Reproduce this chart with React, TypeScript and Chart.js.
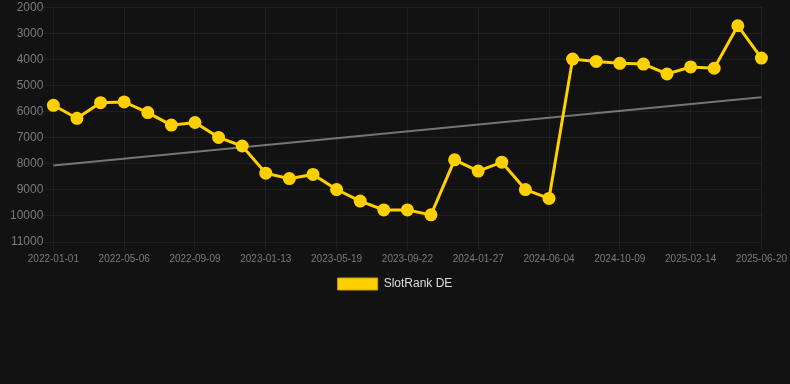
import React, { useEffect, useRef } from "react";
import { Chart, registerables } from "chart.js";

Chart.register(...registerables);

const labels: string[] = [
  "2022-01-01", "2022-02-12", "2022-03-25", "2022-05-06", "2022-06-17", "2022-07-29",
  "2022-09-09", "2022-10-21", "2022-12-02", "2023-01-13", "2023-02-24", "2023-04-07",
  "2023-05-19", "2023-06-30", "2023-08-11", "2023-09-22", "2023-11-03", "2023-12-15",
  "2024-01-27", "2024-03-09", "2024-04-22", "2024-06-04", "2024-07-16", "2024-08-27",
  "2024-10-09", "2024-11-20", "2025-01-02", "2025-02-14", "2025-03-28", "2025-05-09",
  "2025-06-20",
];

const slotRankDE: number[] = [
  5760, 6260, 5660, 5630, 6040, 6520, 6420, 6990, 7320, 8360, 8570, 8410,
  8990, 9430, 9770, 9770, 9960, 7850, 8280, 7940, 8990, 9330, 3990, 4080,
  4150, 4180, 4560, 4290, 4340, 2710, 3950,
];

const trendStart = 8070;
const trendEnd = 5450;
const trend: (number | null)[] = labels.map((_, i) =>
  i === 0 ? trendStart : i === labels.length - 1 ? trendEnd : null
);

const yMin = 2000;
const yMax = 11000;
const yStep = 1000;

export default function App() {
  const ref = useRef<HTMLCanvasElement | null>(null);

  useEffect(() => {
    document.body.style.margin = "0";
    document.body.style.background = "#121212";
    if (!ref.current) return;
    const defaultLabels = Chart.defaults.plugins.legend.labels.generateLabels;
    const chart = new Chart(ref.current, {
      type: "line",
      data: {
        labels,
        datasets: [
          {
            label: "SlotRank DE",
            data: slotRankDE,
            borderColor: "#FFD000",
            backgroundColor: "#FFD000",
            borderWidth: 3,
            pointRadius: 5,
            pointHoverRadius: 5,
            pointBackgroundColor: "#FFD000",
            pointBorderColor: "#FFD000",
            tension: 0,
          },
          {
            label: "Trend",
            data: trend,
            borderColor: "rgba(160,160,160,0.7)",
            backgroundColor: "rgba(160,160,160,0.7)",
            borderWidth: 2,
            pointRadius: 0,
            spanGaps: true,
          },
        ],
      },
      options: {
        animation: false,
        responsive: true,
        maintainAspectRatio: false,
        layout: { autoPadding: false, padding: 0 },
        plugins: {
          legend: {
            position: "bottom",
            labels: {
              color: "#dddddd",
              font: { size: 12 },
              boxWidth: 40,
              boxHeight: 12,
              filter: (item) => item.text === "SlotRank DE",
              generateLabels: (c) =>
                defaultLabels(c).map((l) => ({ ...l, lineWidth: 1, strokeStyle: "#c9a400" })),
            },
          },
          tooltip: { enabled: false },
        },
        scales: {
          x: {
            grid: { color: "rgba(255,255,255,0.06)", tickColor: "rgba(255,255,255,0.06)" },
            border: { display: false },
            ticks: {
              color: "#7a7a7a",
              font: { size: 10 },
              autoSkip: true,
              maxTicksLimit: 11,
              maxRotation: 0,
            },
          },
          y: {
            reverse: true,
            min: yMin,
            max: yMax,
            afterFit: (scale) => {
              scale.width += 10;
            },
            grid: {
              color: "rgba(255,255,255,0.06)",
              tickColor: "rgba(255,255,255,0.06)",
              drawTicks: true,
              tickLength: 10,
            },
            border: { display: false },
            ticks: {
              color: "#7a7a7a",
              font: { size: 12 },
              stepSize: yStep,
              padding: 0,
              callback: (v) => String(v),
            },
          },
        },
      },
    });
    return () => chart.destroy();
  }, []);

  return (
    <div style={{ position: "fixed", left: 0, top: 0, width: 790, height: 300, background: "#121212" }}>
      <canvas ref={ref} />
    </div>
  );
}
